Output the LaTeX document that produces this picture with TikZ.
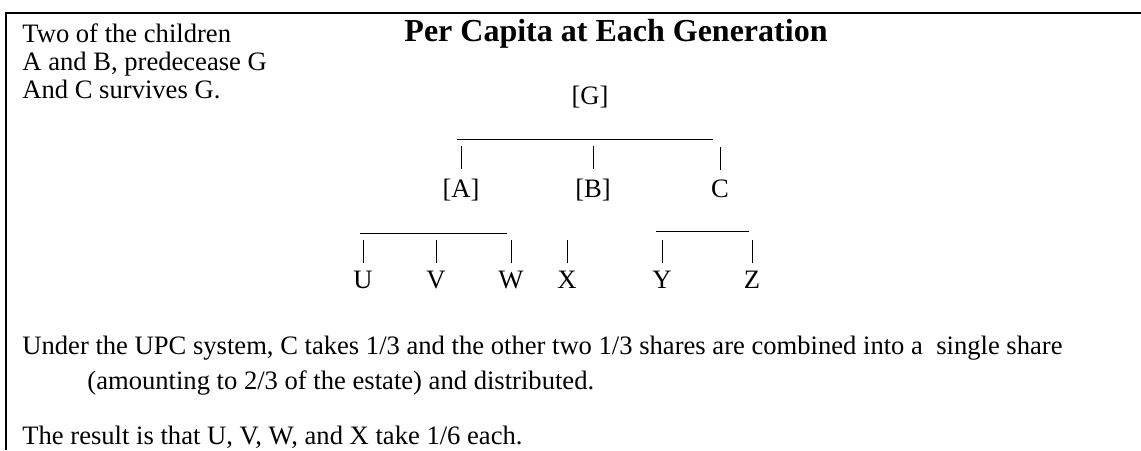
\documentclass[tikz,border=0pt]{standalone}
\usepackage{fontspec}
\setmainfont{Liberation Serif}
\usetikzlibrary{positioning}

\begin{document}
\begin{tikzpicture}[x=0.5pt,y=-0.5pt,
    txt/.style={anchor=base west,inner sep=0pt,font=\fontsize{13.3}{15}\selectfont},
    kin/.style={anchor=base,inner sep=0pt,font=\fontsize{13.3}{15}\selectfont},
    bar/.style={line width=0.5pt},
    frm/.style={line width=0.6pt}]
  \useasboundingbox (0,0) rectangle (1141,450);
  \clip (0,0) rectangle (1141,450);
  % frame (open to the right and below)
  \coordinate (frTL) at (6,13);
  \coordinate (frTR) at (1141,13);
  \coordinate (frBL) at (6,450);
  \draw[frm] (frTR) -- (frTL) -- (frBL);
  % heading and side note
  \node[kin,font=\fontsize{16}{18}\selectfont\bfseries] (title) at (616,41) {Per Capita at Each Generation};
  \node[txt] (note1) at (22,42) {Two of the children};
  \node[txt] (note2) at (22,70) {A and B, predecease G};
  \node[txt] (note3) at (22,98) {And C survives G.};
  % generation 0
  \node[kin] (G) at (590,104) {[G]};
  % generation 1
  \node[kin] (A) at (461,197) {[A]};
  \node[kin] (B) at (593,197) {[B]};
  \node[kin] (C) at (720,197) {C};
  \coordinate (barGl) at (457,139);
  \coordinate (barGr) at (713,139);
  \draw[bar] (barGl) -- (barGr);
  \foreach \k in {A,B,C}
    \draw[bar] (\k.north) ++(0,-9) -- ++(0,-23);
  % generation 2
  \foreach \n/\x in {U/363,V/436,W/511,X/567,Y/662,Z/752}
    \node[kin] (\n) at (\x,288) {\n};
  \coordinate (barAl) at (360,233);
  \coordinate (barAr) at (507,233);
  \coordinate (barCl) at (656,231);
  \coordinate (barCr) at (749,231);
  \draw[bar] (barAl) -- (barAr);
  \draw[bar] (barCl) -- (barCr);
  \foreach \n in {U,V,W,X,Y,Z}
    \draw[bar] (\n.north) ++(0,-7) -- ++(0,-23);
  % explanation
  \node[txt] (upc1) at (22,354) {Under the UPC system, C takes 1/3 and the other two 1/3 shares are combined into a\ \ single share};
  \node[txt] (upc2) at (87,389) {(amounting to 2/3 of the estate) and distributed.};
  \node[txt] (res) at (22,444) {The result is that U, V, W, and X take 1/6 each.};
\end{tikzpicture}
\end{document}
